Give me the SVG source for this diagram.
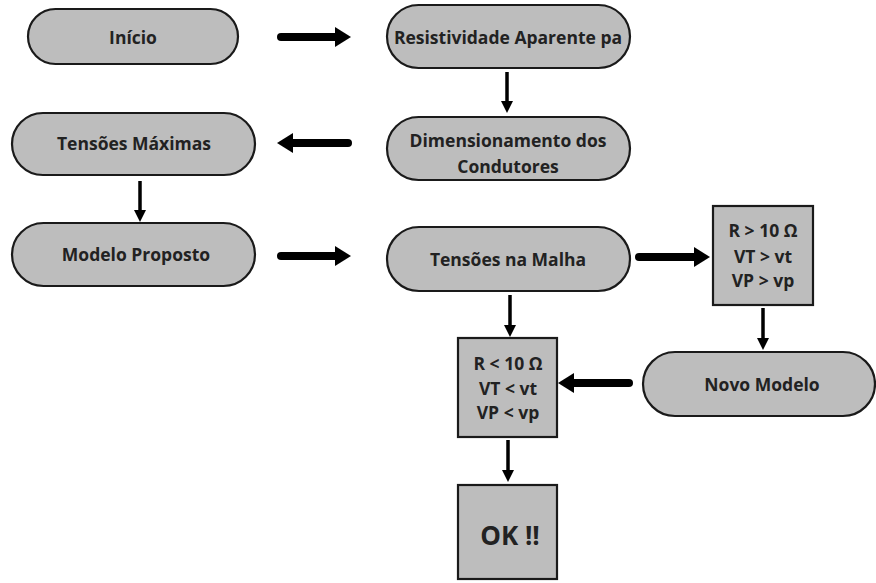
<svg xmlns="http://www.w3.org/2000/svg" width="876" height="583" viewBox="0 0 876 583">
<defs>
<style>
.node{fill:#bdbdbd;stroke:#1a1a1a;stroke-width:2.2}
.t{font-family:"Open Sans","Noto Sans","DejaVu Sans",sans-serif;font-weight:bold;font-size:17.5px;fill:#222;text-anchor:middle;dominant-baseline:central}
.thick{stroke:#000;stroke-width:8;stroke-linecap:round;fill:none}
.thin{stroke:#000;stroke-width:3.5;fill:none}
</style>
<marker id="hb" markerUnits="userSpaceOnUse" markerWidth="17" markerHeight="22" refX="0" refY="11" orient="auto"><path d="M0,1 L16,11 L0,21 z" fill="#000"/></marker>
<marker id="hs" markerUnits="userSpaceOnUse" markerWidth="14" markerHeight="14" refX="0" refY="7" orient="auto"><path d="M0,1 L12,7 L0,13 z" fill="#000"/></marker>
</defs>
<rect width="876" height="583" fill="#fff"/>
<g id="connectors">
<line class="thick" x1="281" y1="37" x2="335" y2="37" marker-end="url(#hb)"/>
<line class="thin" x1="507" y1="72" x2="507" y2="101" marker-end="url(#hs)"/>
<line class="thick" x1="348" y1="143" x2="293" y2="143" marker-end="url(#hb)"/>
<line class="thin" x1="140" y1="181" x2="140" y2="210" marker-end="url(#hs)"/>
<line class="thick" x1="281" y1="256" x2="335" y2="256" marker-end="url(#hb)"/>
<line class="thick" x1="639" y1="257" x2="694" y2="257" marker-end="url(#hb)"/>
<line class="thin" x1="510" y1="295" x2="510" y2="325" marker-end="url(#hs)"/>
<line class="thin" x1="763" y1="308" x2="763" y2="338" marker-end="url(#hs)"/>
<line class="thick" x1="629" y1="383" x2="574" y2="383" marker-end="url(#hb)"/>
<line class="thin" x1="508" y1="440" x2="508" y2="470" marker-end="url(#hs)"/>
</g>
<g id="inicio"><rect class="node" x="28" y="9" width="210" height="55" rx="27.5"/><text class="t" x="133" y="37">Início</text></g>
<g id="resistividade"><rect class="node" x="387" y="5" width="243" height="63" rx="31.5"/><text class="t" x="508" y="37">Resistividade Aparente pa</text></g>
<g id="dimensionamento"><rect class="node" x="387" y="117" width="243" height="63" rx="31.5"/><text class="t" x="508" y="140">Dimensionamento dos</text><text class="t" x="508" y="166">Condutores</text></g>
<g id="tensoes-maximas"><rect class="node" x="12" y="113" width="243" height="62" rx="31"/><text class="t" x="134" y="143">Tensões Máximas</text></g>
<g id="modelo-proposto"><rect class="node" x="12" y="223" width="243" height="63" rx="31.5"/><text class="t" x="136" y="254">Modelo Proposto</text></g>
<g id="tensoes-malha"><rect class="node" x="387" y="227" width="243" height="64" rx="32"/><text class="t" x="508" y="259">Tensões na Malha</text></g>
<g id="cond-maior"><rect class="node" x="713" y="206" width="100" height="99"/><text class="t" x="763" y="230">R &gt; 10 Ω</text><text class="t" x="763" y="256">VT &gt; vt</text><text class="t" x="763" y="280">VP &gt; vp</text></g>
<g id="novo-modelo"><rect class="node" x="643" y="352" width="232" height="64" rx="32"/><text class="t" x="762" y="384">Novo Modelo</text></g>
<g id="cond-menor"><rect class="node" x="458" y="338" width="99" height="99"/><text class="t" x="508" y="363">R &lt; 10 Ω</text><text class="t" x="508" y="388">VT &lt; vt</text><text class="t" x="508" y="412">VP &lt; vp</text></g>
<g id="ok"><rect class="node" x="458" y="485" width="99" height="94"/><text class="t" x="510" y="535" style="font-size:26px">OK !!</text></g>
</svg>
